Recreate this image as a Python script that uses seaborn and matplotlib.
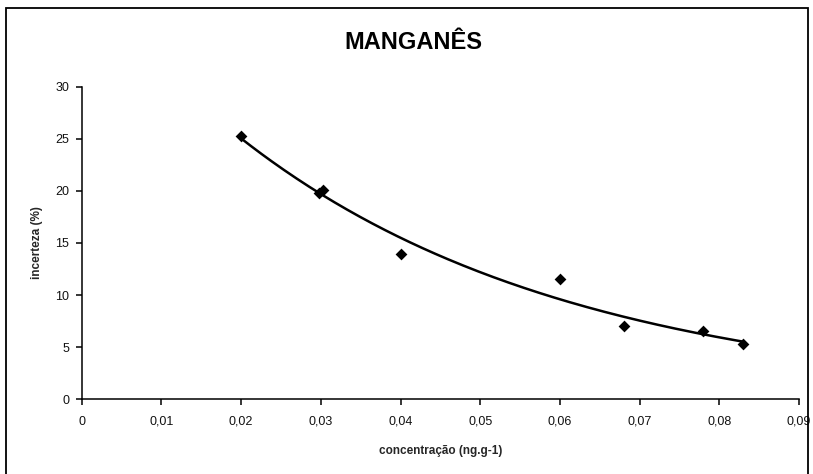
import numpy as np
import pandas as pd
import matplotlib
matplotlib.use("Agg")
import matplotlib.pyplot as plt
from matplotlib.patches import Rectangle
from matplotlib.ticker import FuncFormatter
import seaborn as sns

# data
concentracao = [0.020, 0.0298, 0.0303, 0.040, 0.060, 0.068, 0.078, 0.083]
incerteza = [25.3, 19.8, 20.1, 13.9, 11.5, 7.0, 6.6, 5.3]
x_ticks = [0, 0.01, 0.02, 0.03, 0.04, 0.05, 0.06, 0.07, 0.08, 0.09]
y_ticks = [0, 5, 10, 15, 20, 25, 30]

df = pd.DataFrame({"x": concentracao, "y": incerteza})

# exponential trendline (like Excel's), fitted on log(y)
b, ln_a = np.polyfit(df["x"], np.log(df["y"]), 1)
xs = np.linspace(df["x"].min(), df["x"].max(), 200)
trend = pd.DataFrame({"x": xs, "y": np.exp(ln_a + b * xs)})

sns.set_theme(style="white")
plt.rcParams["font.family"] = ["Liberation Sans", "DejaVu Sans"]

fig = plt.figure(figsize=(8.13, 4.74), dpi=100)
ax = fig.add_axes([0.1005, 0.1576, 0.8823, 0.6595])

sns.lineplot(data=trend, x="x", y="y", color="black", linewidth=1.8, ax=ax)
sns.scatterplot(data=df, x="x", y="y", marker="D", s=36, color="black",
                edgecolor="black", linewidth=0, ax=ax, zorder=3)

ax.set_xlim(x_ticks[0], x_ticks[-1])
ax.set_ylim(y_ticks[0], y_ticks[-1])
ax.set_xticks(x_ticks)
ax.set_yticks(y_ticks)
ax.xaxis.set_major_formatter(FuncFormatter(lambda v, p: ("%g" % round(v, 3)).replace(".", ",")))

for side in ["top", "right"]:
    ax.spines[side].set_visible(False)
for side in ["left", "bottom"]:
    ax.spines[side].set_color("black")
    ax.spines[side].set_linewidth(1.1)

ax.tick_params(axis="both", which="major", direction="out", length=4, width=1.1,
               color="black", labelsize=9, labelcolor="#111111",
               left=True, bottom=True)
ax.tick_params(axis="x", pad=8)
ax.tick_params(axis="y", pad=5)

ax.set_xlabel("concentração (ng.g-1)", fontsize=8.5, fontweight="bold", labelpad=12)
ax.set_ylabel("incerteza (%)", fontsize=8.5, fontweight="bold", labelpad=9)

fig.text(0.509, 0.911, "MANGANÊS", ha="center", va="center",
         fontsize=17, fontweight="bold", color="black")

# chart frame like the Excel chart area
fig.patches.append(Rectangle((6 / 813, -0.05), 802 / 813, 1 - 8 / 474 + 0.05,
                             transform=fig.transFigure, fill=False,
                             edgecolor="black", linewidth=1.3))

fig.savefig("out.png", dpi=100, facecolor="white")
